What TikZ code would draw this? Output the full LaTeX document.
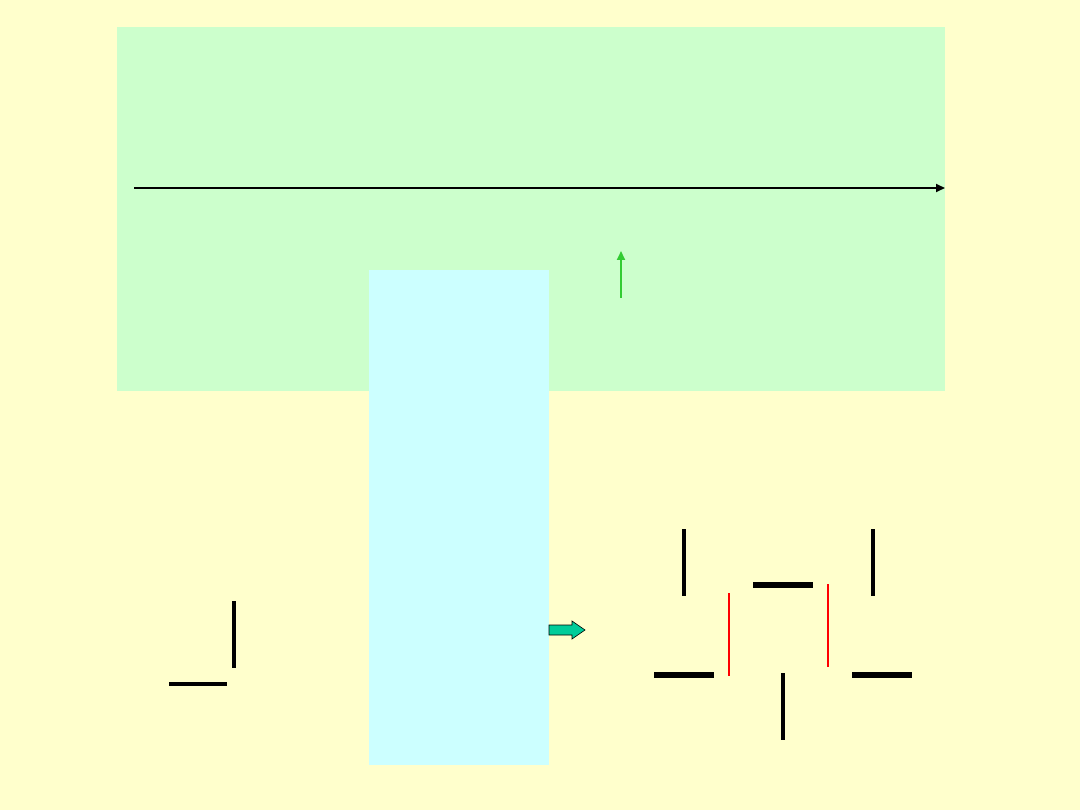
\documentclass[tikz,border=0pt]{standalone}
\usetikzlibrary{arrows.meta,shapes.arrows}
\definecolor{bgyellow}{HTML}{FFFFCC}
\definecolor{panelgreen}{HTML}{CCFFCC}
\definecolor{panelcyan}{HTML}{CCFFFF}
\definecolor{arrowgreen}{HTML}{33CC33}
\definecolor{blockteal}{HTML}{00CC99}
\tikzset{
  bar/.style={line width=4pt},
  widebar/.style={line width=6pt},
  redbar/.style={red,line width=1.5pt},
}
\begin{document}
\begin{tikzpicture}[x=1pt,y=-1pt]
\fill[bgyellow] (0,0) rectangle (1080,810);
\useasboundingbox (0,0) rectangle (1080,810);
\fill[panelgreen] (117,27) rectangle (945,391);
\fill[panelcyan] (369,270) rectangle (549,765);
% axis arrow
\coordinate (axA) at (134,188);
\coordinate (axB) at (945,188);
\draw[line width=2pt,-{Triangle[length=9pt,width=8pt]}] (axA) -- (axB);
% green arrow
\coordinate (gA) at (621,298);
\coordinate (gB) at (621,251);
\draw[arrowgreen,line width=2pt,-{Triangle[length=9pt,width=8pt]}] (gA) -- (gB);
% teal block arrow
\draw[fill=blockteal,draw=black,line width=0.6pt]
  (549,625) -- (572,625) -- (572,621) -- (585,630) -- (572,639) -- (572,635) -- (549,635) -- cycle;
% left L
\draw[bar] (234,601) -- (234,668);
\draw[bar] (169,684) -- (227,684);
% right figure
\draw[bar] (684,529) -- (684,596);
\draw[bar] (873,529) -- (873,596);
\draw[widebar] (753,585) -- (813,585);
\draw[redbar] (729,593) -- (729,676);
\draw[redbar] (828,584) -- (828,667);
\draw[widebar] (654,675) -- (714,675);
\draw[widebar] (852,675) -- (912,675);
\draw[bar] (783,673) -- (783,740);
\end{tikzpicture}
\end{document}
